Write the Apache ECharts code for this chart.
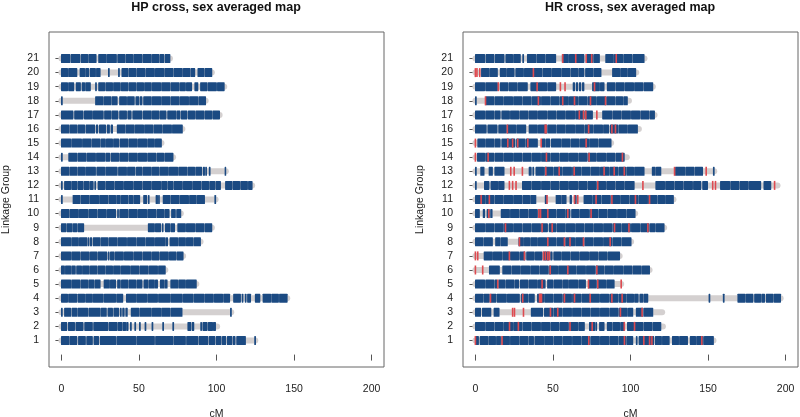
<!DOCTYPE html>
<html>
<head>
<meta charset="utf-8">
<script src="https://cdn.jsdelivr.net/npm/echarts@6/dist/echarts.min.js"></script>
<style>
  html, body { margin: 0; padding: 0; background: #fff; }
  #chart { width: 800px; height: 417px; }
</style>
</head>
<body>
<div id="chart"></div>
<script>
// linkage groups 1..21 (index 0 = group 1)
const groups = [1,2,3,4,5,6,7,8,9,10,11,12,13,14,15,16,17,18,19,20,21];
const xTicks = [0, 50, 100, 150, 200];

// HP cross: group lengths (cM)
const hpLength = [125, 100.4, 109.5, 145.6, 87, 67, 78.5, 89.7, 97, 77, 99.4, 123, 106, 72, 64.5, 78, 102, 93, 105, 97, 70];

// HP cross: marker blocks [start, end] in cM, one list per group
const hpBlocks = [
  [[0,5],[5.6,10],[11,15.5],[16.3,20],[21,24],[25,35],[35.7,48],[48.6,60],[60.7,72],[72.6,80],[80.7,88],[88.7,94.5],[95.3,99],[99.8,103],[103.8,106],[107,110],[110.8,112],[113,118.7],[124.6,125.2]],
  [[0,3.5],[4.5,8.5],[9.3,14],[15,20],[20.8,30],[30.7,36],[36.6,39],[39.6,41.5],[42,43],[44.5,45.1],[47.3,47.9],[50.3,50.9],[53.9,54.5],[58.4,59],[65.3,65.9],[71.8,72.4],[81.5,83.5],[84.3,85.4],[89.8,90.4],[91.2,94],[94.7,97.5],[98,99.4]],
  [[0,0.6],[2,6],[6.8,10],[10.6,17],[17.7,25],[25.6,29],[30,33],[33.8,37],[38,38.6],[39.5,40.5],[41.5,42.5],[45,50],[50.6,58],[58.6,64],[64.6,70],[70.6,77.8],[109,109.6]],
  [[0,4],[4.6,10],[10.7,15],[15.6,20],[20.5,27],[27.6,35],[35.6,39.6],[41.9,48],[48.5,55],[55.6,62],[62.6,70],[70.5,78],[78.6,85],[85.6,92],[92.5,98],[98.6,104],[104.6,108.5],[111,115.5],[116.5,117.1],[118.5,119.1],[120,122],[125,128],[130,135],[135.6,140],[140.6,145.6]],
  [[0,6],[6.6,12],[12.6,17],[17.6,21],[21.6,25],[27.5,31],[31.6,35],[36.2,38],[38.7,43],[43.6,48],[48.6,52],[53.2,56],[56.7,60],[60.6,62],[63.8,66],[66.6,68.2],[70.5,75],[75.6,80],[80.6,87]],
  [[0,2],[2.6,6],[6.6,9],[9.8,13],[13.6,18],[18.6,23],[23.6,28],[28.6,33],[33.6,38],[38.6,44],[44.6,50],[50.6,56],[56.6,62],[62.6,67]],
  [[0,6],[6.6,12],[12.6,18],[18.6,23],[23.6,29.3],[30.2,30.8],[31.6,34],[34.6,40],[40.6,46],[46.6,52],[52.6,58],[58.6,63],[63.6,69],[69.6,74],[74.6,78.5]],
  [[0,6],[6.6,11],[11.6,16.5],[17.2,17.8],[18.6,19.6],[20.5,25],[25.6,30],[30.6,36],[36.6,42],[42.6,48],[48.6,54],[54.6,60],[60.6,67],[67.6,68.5],[70,75],[75.6,80],[80.6,85],[85.6,89.7]],
  [[0,3],[3.6,7],[7.6,10],[10.6,14.4],[56,60],[60.6,64],[65,65.6],[67,70],[70.6,73],[75,80],[80.6,86],[86.6,92],[92.6,97]],
  [[0,5],[5.6,11],[11.6,17],[17.6,23],[23.6,29],[29.6,35],[36.2,36.8],[37.6,43],[43.6,49],[49.6,55],[55.6,61],[61.6,66],[66.6,69.5],[71,73.5],[74.3,77]],
  [[0,0.6],[7.5,12],[12.6,18],[18.6,24],[24.6,30],[30.6,35],[35.6,38],[38.6,43],[43.6,46],[46.6,50.5],[53,55],[56,56.6],[61,62],[62.6,63.2],[65.6,70],[70.6,76],[76.6,82],[82.6,87],[87.6,92.3],[98.9,99.5]],
  [[0,0.6],[2,6],[6.6,10],[10.6,14],[14.6,18],[18.6,20.5],[21.5,22.1],[23.6,28],[28.6,34],[34.6,40],[40.6,46],[46.6,52],[52.6,58],[58.6,64],[64.6,68],[68.6,72],[72.6,78],[78.6,84],[84.6,90],[90.6,95],[95.6,99],[99.6,102.6],[105.8,110],[110.6,115],[115.6,120],[120.6,123]],
  [[0,5],[5.6,10],[10.6,15],[15.6,22],[22.8,28],[28.6,36],[36.8,42],[42.6,47.5],[48.3,52],[52.6,58],[58.6,63],[63.6,69],[69.6,75],[75.6,81],[81.6,86],[86.6,90.5],[91.5,92.3],[93,93.6],[95.3,95.9],[105.5,106]],
  [[0,0.6],[4.7,10],[10.6,16],[16.6,22],[22.6,28],[28.6,31.2],[32,37],[37.6,43],[43.6,49],[49.6,55],[55.6,61],[61.6,66],[66.6,72]],
  [[0,6],[6.6,13],[13.6,19],[19.6,25],[25.6,28.4],[29,33],[33.6,37],[37.8,43],[43.6,49],[49.6,55],[55.6,60],[60.6,64.5]],
  [[0,5],[5.6,10],[10.6,15],[15.8,21.5],[22.5,23.5],[24.5,28.5],[29.5,31],[32,33],[36,41],[41.6,47],[47.6,53],[53.6,59],[59.6,65],[65.6,71],[71.6,78]],
  [[0,7.5],[8.5,14],[14.8,20],[20.6,27],[27.8,32],[32.6,36.5],[37.5,42],[42.8,45],[46,52],[52.8,58],[58.6,63],[63.6,67.5],[68.5,74],[74.6,76.5],[77.3,81],[81.8,86],[86.6,92],[92.6,97],[97.6,102]],
  [[0,0.6],[22,27],[27.6,32],[32.6,36],[37.5,42],[42.6,47],[48,50],[50.8,52],[53,58],[58.6,64],[64.6,70],[70.6,76],[76.6,82],[82.6,88],[88.6,93]],
  [[0,4],[4.6,8],[9.5,12.3],[13.3,15],[15.6,18.7],[22,22.6],[24,28],[28.6,33],[33.6,38],[38.6,43],[43.6,48],[48.6,53],[53.6,58],[58.6,64],[64.6,70],[70.6,76],[76.6,80],[80.6,84],[86,88],[89.7,94],[94.6,100],[100.6,105]],
  [[0,4],[4.6,10],[12,15],[15.6,17.6],[18.5,22],[22.6,25],[30.3,30.9],[36.8,37.4],[39,43],[43.6,48],[48.6,54],[54.6,60],[60.6,66],[66.6,72],[72.6,78],[78.6,83],[83.6,86],[88,92],[92.6,97]],
  [[0,5.5],[6.2,12],[12.8,17],[17.6,22.4],[24,29],[29.6,35.5],[36.3,41],[41.6,46],[46.6,52],[52.6,58],[58.6,63],[63.6,66],[66.8,70]]
];

// HR cross: group lengths (cM)
const hrLength = [153.5, 120.9, 120.4, 196.8, 94, 112.3, 93, 100.4, 121.7, 103, 127.7, 194.8, 154, 97.6, 87.5, 105.4, 115.5, 99, 114.4, 103.7, 109];

// HR cross: marker blocks [start, end] in cM
const hrBlocks = [
  [[0,2],[3,8],[8.6,13],[13.6,16.2],[17,22],[22.6,28],[28.6,34],[34.6,37.5],[38.3,44],[44.6,50],[50.6,56],[56.6,62],[62.6,68],[68.6,74],[74.6,80],[80.6,86],[86.6,92],[92.6,97],[97.6,101.5],[103.7,104.3],[105.5,108],[108.6,112],[112.6,115],[116,120],[120.6,125],[127,131],[131.6,136.8],[138.5,142],[142.6,147],[147.6,153.5]],
  [[0,6],[6.6,12],[12.6,18],[18.6,24],[24.6,30],[30.6,36],[36.6,42],[42.6,48],[48.6,54],[54.6,60],[60.6,66],[66.6,70.3],[73.5,77],[77.6,78.2],[80,83],[85,88],[88.6,93],[93.6,96],[98,102],[102.6,108],[108.6,114],[114.6,119.6]],
  [[0,3.4],[4.5,10],[12,15.3],[36,43.4],[44.5,50],[50.6,56],[56.6,62],[62.6,68],[68.6,74],[74.6,80],[80.6,86],[86.6,92],[92.6,98],[98.6,101.5],[103.7,108],[108.6,114.4]],
  [[0,5],[5.6,9],[9.8,13.3],[14,20],[20.6,28.4],[29.5,34],[34.6,38],[40,44],[44.6,50],[50.6,56],[56.6,62],[62.6,68],[68.6,74],[74.6,80],[80.6,86],[86.6,92],[92.6,97],[97.6,102],[102.6,105],[106,108],[108.6,111.2],[150.6,151.2],[159.8,160.4],[169.2,174],[174.6,179],[180,184],[184.6,186.5],[187.5,192],[192.6,196.8]],
  [[0,6],[6.6,12],[12.6,14],[15,19],[19.6,25],[25.6,28],[29,34],[34.6,40],[40.6,45],[46.5,50],[50.6,56],[56.6,60],[60.6,66],[66.6,71],[73,78],[78.6,84],[84.6,89.5]],
  [[9,15.5],[17.6,23],[23.6,29],[29.6,35],[35.6,41],[41.6,47],[47.6,53],[53.6,59],[59.6,65],[65.6,71],[71.6,77],[77.6,83],[83.6,89],[89.6,95],[95.6,101],[101.6,107],[107.6,112.3]],
  [[5.6,11],[11.6,17],[17.6,22],[22.6,28],[28.6,32],[33,38],[38.6,43],[44,47.5],[48.5,49.5],[50.5,55],[55.6,61],[61.6,67],[67.6,73],[73.6,79],[79.6,85],[85.6,93]],
  [[0,5],[5.6,11],[13,16],[16.6,20.6],[28,31],[31.6,35],[35.6,40],[40.6,46],[46.6,52],[52.6,58],[58.6,64],[64.6,70],[70.6,76],[76.6,82],[82.6,88],[88.6,94],[94.6,100.4]],
  [[0,6],[6.6,12],[12.6,18],[18.6,24],[24.6,30],[30.6,36],[36.6,42],[42.6,46.5],[47.5,52],[52.6,58],[58.6,64],[64.6,70],[70.6,76],[76.6,82],[82.6,88],[88.6,94],[94.6,100],[100.6,106],[106.6,112],[112.6,116],[116.6,121.7]],
  [[0,2.6],[5,6],[7.5,9],[9.8,10.8],[16.6,22],[22.6,28],[28.6,34],[34.6,40],[40.6,46],[46.6,52],[52.6,58],[58.6,61],[62,67],[67.6,73],[73.6,79],[79.6,85],[85.6,91],[91.6,97],[97.6,103]],
  [[0,6],[6.6,12],[12.6,18],[18.6,24],[24.6,30],[30.6,35],[35.6,39],[45,46],[52,55],[55.6,58.5],[61,62],[64,65],[70,75],[75.6,81],[81.6,87],[87.6,93],[93.6,99],[99.6,105],[105.6,111],[111.6,117],[117.6,122],[122.6,127.7]],
  [[0,0.6],[5.8,8.8],[10,14.4],[14.9,18.5],[30.3,36],[36.6,42],[42.6,48],[48.6,54],[54.6,60],[60.6,66],[66.6,72],[72.6,78],[78.6,84],[84.6,90],[90.6,96],[96.6,102.4],[116.3,122],[122.6,128],[128.6,134],[134.6,140],[140.6,145.4],[146.5,149.7],[158,164],[164.6,170],[170.6,176],[176.6,184],[186,190.5]],
  [[0,0.6],[3.4,5.6],[8.8,11],[12.5,18.5],[34.6,36],[37,37.6],[39,44],[44.6,50],[50.6,56],[56.6,62],[62.6,68],[68.6,74],[74.6,80],[80.6,86],[86.6,92],[92.6,97],[97.6,102],[102.6,108.8],[114,116],[116.6,119.6],[129,135],[135.6,141],[141.6,146.5],[153.4,154]],
  [[1.3,6],[6.6,12],[12.6,18],[18.6,24],[24.6,30],[30.6,36],[36.6,42],[42.6,48],[48.6,54],[54.6,60],[60.6,66],[66.6,72],[72.6,78],[78.6,84],[84.6,90],[90.6,96]],
  [[1.5,6],[6.6,12],[12.6,16],[17,22],[22.6,25.5],[26.5,32],[32.6,40],[43,45],[45.6,48],[49,55],[55.6,61],[61.6,67],[67.6,73],[73.6,79],[79.6,87.5]],
  [[0,7],[8,14],[15,20],[20.6,26],[26.6,32.5],[34.6,40],[40.6,46],[46.6,52],[52.6,58],[58.6,64],[64.6,70],[70.6,76],[76.6,82],[82.6,86],[87,92],[92.6,98],[98.6,104.5]],
  [[0,6],[6.6,12],[12.6,16],[17,22],[22.6,28],[28.6,34],[34.6,40],[40.6,46],[46.6,52],[52.6,58],[58.6,64],[64.6,70],[70.6,75.5],[82,88],[88.6,94],[94.6,100],[100.6,106],[106.6,112],[112.6,115.5]],
  [[0,0.6],[6.7,12],[12.6,18],[18.6,24],[24.6,30],[30.6,36],[36.6,42],[42.6,48],[48.6,54],[54.6,60],[60.6,66],[66.6,72],[72.6,78],[78.6,84],[84.6,90],[90.6,95],[95.6,98]],
  [[0,6],[6.6,14.2],[16,21],[21.6,27],[27.6,33.5],[35.7,40],[40.6,46],[46.6,51.8],[63,64],[65,66],[67,68],[69,70],[75.5,80],[80.6,83],[85,90],[90.6,96],[96.6,102],[102.6,108],[108.6,114.4]],
  [[3.9,9],[9.6,14.2],[16,20],[20.6,25],[26,31],[31.6,37],[37.8,43],[43.6,49],[49.6,55],[55.6,61],[61.6,66],[66.6,70],[71,76],[76.6,81],[88.4,93],[93.6,98],[98.6,103.4]],
  [[0,6],[6.8,12],[12.8,18.5],[19.6,24],[24.6,29],[30.5,31.1],[33.5,39],[39.6,45],[45.6,51.8],[56,60],[60.6,64],[64.8,70],[72,76],[76.6,80],[84,89],[89.6,95],[95.6,101],[101.6,108.8]]
];

// HR cross: red-highlighted markers (cM)
const hrRed = [
  [0, 17.2, 73.1, 96.1, 108.6, 112.3, 113.8, 146],
  [22, 27.7, 61, 75.3, 96, 102.6],
  [24, 25.2, 31, 48.4, 53.1, 93.5, 107.5],
  [9.7, 30.5, 41.4, 42.0, 42.6, 57.4, 63.9, 74, 88, 94.6],
  [14.4, 43, 72.9, 78.9, 94],
  [0, 4.7, 48.2, 59.6, 78.3],
  [0, 1.5, 21.9, 31.6, 43.9, 45.2, 46.7, 47.7],
  [28.4, 46.7, 57.4, 61, 69.7, 86.9],
  [19.4, 43, 49.5, 89.7, 99, 111.2],
  [8.6, 40.9, 42, 46.7, 59.6, 74.6],
  [3.7, 9, 46.2, 63.9, 66, 77.8, 88, 103.2, 112.3],
  [21.9, 24, 26.2, 78.9, 108, 153, 154.8, 192.9],
  [22.8, 25, 30.3, 45.4, 54, 63.7, 83, 89.5, 96, 128.4, 148.8],
  [0, 8.2, 45.8, 73.3, 94.8],
  [0, 20.9, 24, 27.3, 33.8, 42.4, 71.4],
  [20.6, 45, 45.6, 73, 88, 90.3],
  [67, 69.7, 71.2, 78.3],
  [6.5, 40.6, 56.3, 63.9, 74.2, 83.9],
  [14.8, 39.8, 54.8, 57.8, 76.8],
  [0, 1, 2.8, 37.4],
  [56.3, 64.7, 71.4, 75, 90.8]
];

const titles = ['HP cross, sex averaged map', 'HR cross, sex averaged map'];

const BLUE = '#1b4a82';
const GREY = '#d4d0d0';
const RED = '#de4a50';
const FONT = 'Liberation Sans';

const chart = echarts.init(document.getElementById('chart'), null, { renderer: 'canvas' });

function greyBar(params, api) {
  const g = api.value(0);
  const p0 = api.coord([0, g]);
  const p1 = api.coord([api.value(1), g]);
  return {
    type: 'line',
    shape: { x1: p0[0], y1: p0[1], x2: p1[0], y2: p1[1] },
    style: { stroke: GREY, lineWidth: 6, lineCap: 'round' }
  };
}

function blueBlock(params, api) {
  const g = api.value(2);
  const p0 = api.coord([api.value(0), g]);
  const p1 = api.coord([api.value(1), g]);
  return {
    type: 'rect',
    shape: { x: p0[0] - 0.4, y: p0[1] - 4.5, width: Math.max(p1[0] - p0[0], 0.6) + 0.8, height: 9, r: 0.6 },
    style: { fill: BLUE }
  };
}

function redMark(params, api) {
  const p = api.coord([api.value(0), api.value(1)]);
  return {
    type: 'rect',
    shape: { x: p[0] - 0.8, y: p[1] - 4.5, width: 1.6, height: 9 },
    style: { fill: RED }
  };
}

const grids = [
  { left: 49, top: 32, width: 335, height: 335 },
  { left: 463, top: 32, width: 335, height: 335 }
];

const option = {
  backgroundColor: '#ffffff',
  animation: false,
  title: titles.map((t, i) => ({
    text: t,
    left: grids[i].left + 167,
    top: 1,
    textAlign: 'center',
    padding: 0,
    textStyle: { fontFamily: FONT, fontSize: 12.5, fontWeight: 'bold', color: '#111' }
  })),
  grid: grids.map(g => Object.assign({
    show: true, borderColor: '#666', borderWidth: 1, backgroundColor: 'transparent',
    containLabel: false, outerBoundsMode: 'none'
  }, g)),
  xAxis: grids.map((g, i) => ({
    type: 'value',
    gridIndex: i,
    min: -8,
    max: 208,
    name: 'cM',
    nameLocation: 'middle',
    nameGap: 42,
    nameTextStyle: { fontFamily: FONT, fontSize: 10.5, color: '#222' },
    axisLine: { show: false },
    axisTick: { show: true, customValues: xTicks, length: 6, lineStyle: { color: '#555' } },
    axisLabel: { customValues: xTicks, margin: 17, fontFamily: FONT, fontSize: 10.5, color: '#222' },
    splitLine: { show: false }
  })),
  yAxis: grids.map((g, i) => ({
    type: 'value',
    gridIndex: i,
    min: -0.88,
    max: 22.88,
    name: 'Linkage Group',
    nameLocation: 'middle',
    nameGap: 37,
    nameRotate: 90,
    nameTextStyle: { fontFamily: FONT, fontSize: 10.5, color: '#222' },
    axisLine: { show: false },
    axisTick: { show: true, customValues: groups, length: 6, lineStyle: { color: '#555' } },
    axisLabel: { customValues: groups, margin: 10, fontFamily: FONT, fontSize: 10.5, color: '#222' },
    splitLine: { show: false }
  })),
  series: []
};

const panels = [
  { length: hpLength, blocks: hpBlocks, red: null },
  { length: hrLength, blocks: hrBlocks, red: hrRed }
];

panels.forEach((p, i) => {
  option.series.push({
    type: 'custom',
    xAxisIndex: i, yAxisIndex: i,
    renderItem: greyBar,
    data: groups.map((g, k) => [g, p.length[k]]),
    z: 1
  });
  const blockData = [];
  p.blocks.forEach((list, k) => list.forEach(b => blockData.push([b[0], b[1], groups[k]])));
  option.series.push({
    type: 'custom',
    xAxisIndex: i, yAxisIndex: i,
    renderItem: blueBlock,
    data: blockData,
    z: 2
  });
  if (p.red) {
    const redData = [];
    p.red.forEach((list, k) => list.forEach(x => redData.push([x, groups[k]])));
    option.series.push({
      type: 'custom',
      xAxisIndex: i, yAxisIndex: i,
      renderItem: redMark,
      data: redData,
      z: 3
    });
  }
});

chart.setOption(option);
</script>
</body>
</html>
